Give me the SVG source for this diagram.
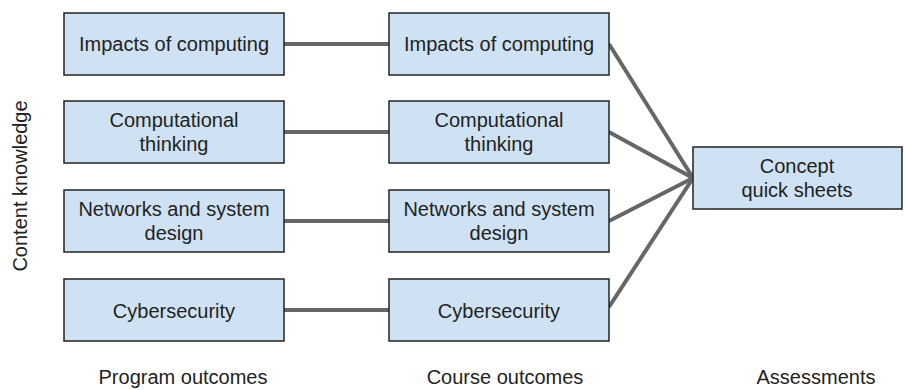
<svg xmlns="http://www.w3.org/2000/svg" width="905" height="390" viewBox="0 0 905 390">
<style>
.box{fill:#cfe2f3;stroke:#222;stroke-width:1.5}
.t{font-family:"Liberation Sans",Arial,sans-serif;font-size:20px;fill:#222;text-anchor:middle}
.c{stroke:#666;stroke-width:4;fill:none}
</style>
<rect width="905" height="390" fill="#fff"/>
<g id="connectors">
<line class="c" x1="284" y1="44" x2="389" y2="44"/>
<line class="c" x1="284" y1="132" x2="389" y2="132"/>
<line class="c" x1="284" y1="221" x2="389" y2="221"/>
<line class="c" x1="284" y1="310" x2="389" y2="310"/>
<line class="c" x1="609" y1="44" x2="693" y2="178"/>
<line class="c" x1="609" y1="132" x2="693" y2="178"/>
<line class="c" x1="609" y1="221" x2="693" y2="178"/>
<line class="c" x1="609" y1="307" x2="693" y2="178"/>
</g>
<g id="p1"><rect class="box" x="64" y="13" width="220" height="62"/><text class="t" x="174" y="51">Impacts of computing</text></g>
<g id="p2"><rect class="box" x="64" y="101" width="220" height="62"/><text class="t" x="174" y="127">Computational</text><text class="t" x="174" y="151">thinking</text></g>
<g id="p3"><rect class="box" x="64" y="190" width="220" height="62"/><text class="t" x="174" y="216">Networks and system</text><text class="t" x="174" y="240">design</text></g>
<g id="p4"><rect class="box" x="64" y="279" width="220" height="62"/><text class="t" x="174" y="318">Cybersecurity</text></g>
<g id="c1"><rect class="box" x="389" y="13" width="220" height="62"/><text class="t" x="499" y="51">Impacts of computing</text></g>
<g id="c2"><rect class="box" x="389" y="101" width="220" height="62"/><text class="t" x="499" y="127">Computational</text><text class="t" x="499" y="151">thinking</text></g>
<g id="c3"><rect class="box" x="389" y="190" width="220" height="62"/><text class="t" x="499" y="216">Networks and system</text><text class="t" x="499" y="240">design</text></g>
<g id="c4"><rect class="box" x="389" y="279" width="220" height="62"/><text class="t" x="499" y="318">Cybersecurity</text></g>
<g id="a1"><rect class="box" x="693" y="147" width="209" height="62"/><text class="t" x="797" y="173">Concept</text><text class="t" x="797" y="197">quick sheets</text></g>
<g id="labels">
<text class="t" x="183" y="384">Program outcomes</text>
<text class="t" x="505" y="384">Course outcomes</text>
<text class="t" x="816" y="384">Assessments</text>
<text class="t" transform="translate(27,186) rotate(-90)">Content knowledge</text>
</g>
</svg>
